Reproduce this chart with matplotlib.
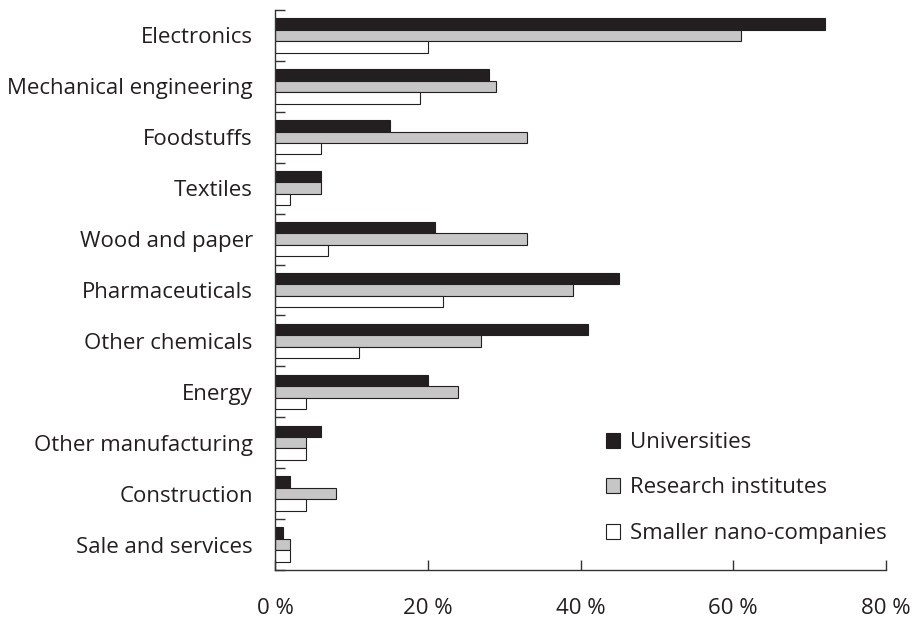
import matplotlib
matplotlib.use("Agg")
import matplotlib.pyplot as plt
import numpy as np
from matplotlib.patches import Patch

categories = ["Electronics", "Mechanical engineering", "Foodstuffs", "Textiles",
              "Wood and paper", "Pharmaceuticals", "Other chemicals", "Energy",
              "Other manufacturing", "Construction", "Sale and services"]
universities = [72, 28, 15, 6, 21, 45, 41, 20, 6, 2, 1]
research_institutes = [61, 29, 33, 6, 33, 39, 27, 24, 4, 8, 2]
smaller_nano = [20, 19, 6, 2, 7, 22, 11, 4, 4, 4, 2]
series_names = ["Universities", "Research institutes", "Smaller nano-companies"]
xticks = [0, 20, 40, 60, 80]
xticklabels = ["0 %", "20 %", "40 %", "60 %", "80 %"]

colors = ["#231f20", "#c6c6c6", "#ffffff"]
edge = "#231f20"
fs = 16

plt.rcParams['font.family'] = ['Open Sans', 'DejaVu Sans']
fig = plt.figure(figsize=(9.16, 6.21), dpi=100)
ax = fig.add_axes([275/916, 1-570/621, (886-275)/916, (570-10)/621])

n = len(categories)
y = np.arange(n)
h = 0.225
for i, (vals, c) in enumerate(zip([universities, research_institutes, smaller_nano], colors)):
    ax.barh(y + (i - 1)*h, vals, height=h, color=c, edgecolor=edge, linewidth=0.8,
            label=series_names[i])

ax.set_ylim(n - 0.5, -0.5)
ax.set_xlim(0, 80)
ax.set_yticks(y)
ax.set_yticklabels(categories, fontsize=fs, color="#231f20")
ax.set_yticks(np.arange(-0.5, n - 0.4, 1), minor=True)
ax.tick_params(axis='y', which='major', length=0, pad=16)
ax.tick_params(axis='y', which='minor', length=7, direction='in', color="#333333", width=1)
ax.set_xticks(xticks)
ax.set_xticklabels(xticklabels, fontsize=fs, color="#231f20")
ax.tick_params(axis='x', length=7, direction='in', color="#333333", width=1, pad=20)
for s in ['top', 'right']:
    ax.spines[s].set_visible(False)
for s in ['left', 'bottom']:
    ax.spines[s].set_color("#333333")
    ax.spines[s].set_linewidth(1)

handles = [Patch(facecolor=c, edgecolor=edge, linewidth=0.8) for c in colors]
leg = ax.legend(handles, series_names, loc='upper left',
                bbox_to_anchor=((606-275)/611, 1-(432-10)/560),
                frameon=False, fontsize=fs, handlelength=0.65, handleheight=0.65,
                handletextpad=0.45, labelspacing=1.1, borderaxespad=0, borderpad=0)
for t in leg.get_texts():
    t.set_color("#231f20")

fig.savefig("out.png", dpi=100)
